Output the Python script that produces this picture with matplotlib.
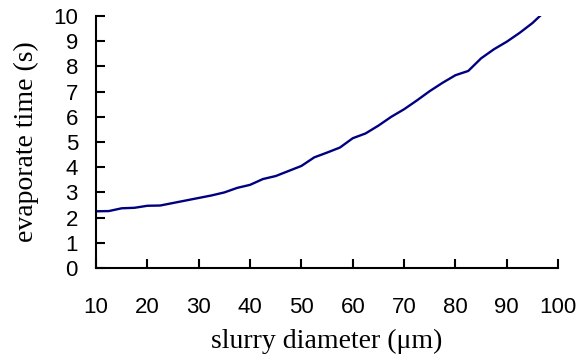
import matplotlib
matplotlib.use("Agg")
import matplotlib.pyplot as plt

# slurry droplet diameter (um) vs evaporation time (s)
diameter = [10, 12.5, 15, 17.5, 20, 22.5, 25, 27.5, 30, 32.5, 35, 37.5, 40,
            42.5, 45, 47.5, 50, 52.5, 55, 57.5, 60, 62.5, 65, 67.5, 70,
            72.5, 75, 77.5, 80, 82.5, 85, 87.5, 90, 92.5, 95, 97.5]
evap_time = [2.25, 2.26, 2.37, 2.39, 2.47, 2.48, 2.58, 2.68, 2.78, 2.88,
             3.00, 3.18, 3.30, 3.53, 3.65, 3.85, 4.05, 4.39, 4.58, 4.78,
             5.15, 5.34, 5.65, 6.00, 6.30, 6.65, 7.02, 7.35, 7.65, 7.82,
             8.32, 8.68, 8.98, 9.33, 9.72, 10.2]

xticks = [10, 20, 30, 40, 50, 60, 70, 80, 90, 100]
yticks = [0, 1, 2, 3, 4, 5, 6, 7, 8, 9, 10]

fig = plt.figure(figsize=(5.76, 3.55), dpi=100)
ax = fig.add_axes([0.1667, 0.245, 0.8023, 0.71])

ax.plot(diameter, evap_time, color='#000080', lw=1.7)

ax.set_xlim(10, 100)
ax.set_ylim(0, 10)
ax.set_xticks(xticks)
ax.set_yticks(yticks)

for s in ['top', 'right']:
    ax.spines[s].set_visible(False)
for s in ['left', 'bottom']:
    ax.spines[s].set_linewidth(1.5)

ax.tick_params(axis='both', direction='in', width=1.5, length=6.5,
               labelsize=16, labelfontfamily='Liberation Sans')
ax.tick_params(axis='y', pad=13)
ax.tick_params(axis='x', pad=21)

ax.set_xlabel("slurry diameter (\u03bcm)", family='Liberation Serif',
              fontsize=20, labelpad=8)
ax.set_ylabel("evaporate time (s)", family='Liberation Serif',
              fontsize=20, labelpad=10)

fig.savefig("out.png", dpi=100)
